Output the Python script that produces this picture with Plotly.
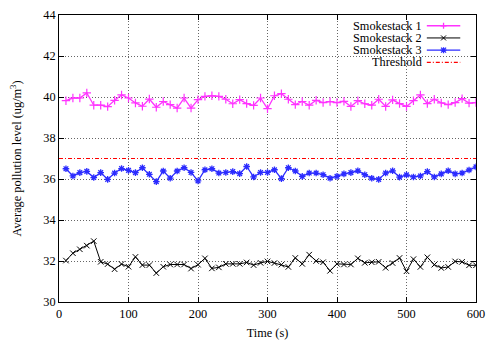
import plotly.graph_objects as go

time_s = [10, 20, 30, 40, 50, 60, 70, 80, 90, 100, 110, 120, 130, 140, 150, 160, 170, 180, 190, 200,
          210, 220, 230, 240, 250, 260, 270, 280, 290, 300, 310, 320, 330, 340, 350, 360, 370, 380, 390, 400,
          410, 420, 430, 440, 450, 460, 470, 480, 490, 500, 510, 520, 530, 540, 550, 560, 570, 580, 590, 600]

smokestack_1 = [39.82, 39.95, 39.95, 40.20, 39.60, 39.60, 39.53, 39.84, 40.10, 39.95,
                39.71, 39.55, 39.90, 39.50, 39.78, 39.63, 39.46, 39.95, 39.46, 39.87,
                40.03, 40.06, 40.03, 39.89, 39.67, 39.87, 39.68, 39.59, 39.95, 39.43,
                40.06, 40.16, 39.89, 39.63, 39.78, 39.60, 39.84, 39.73, 39.78, 39.73,
                39.79, 39.54, 39.82, 39.67, 39.60, 39.89, 39.54, 39.86, 39.68, 39.54,
                39.82, 40.10, 39.68, 39.89, 39.71, 39.63, 39.73, 39.92, 39.70, 39.73]

smokestack_2 = [32.02, 32.38, 32.57, 32.75, 32.97, 31.96, 31.85, 31.60, 31.85, 31.72,
                32.20, 31.80, 31.80, 31.41, 31.72, 31.83, 31.83, 31.83, 31.63, 31.82,
                32.13, 31.64, 31.69, 31.86, 31.86, 31.86, 31.93, 31.80, 31.91, 31.98,
                31.90, 31.82, 31.71, 32.15, 31.86, 32.31, 32.00, 31.94, 31.52, 31.86,
                31.83, 31.83, 32.13, 31.91, 31.94, 31.96, 31.67, 31.90, 32.15, 31.50,
                32.09, 31.71, 32.18, 31.82, 31.66, 31.71, 31.98, 31.96, 31.79, 31.79]

smokestack_3 = [36.50, 36.15, 36.31, 36.37, 36.07, 36.31, 35.98, 36.29, 36.51, 36.42,
                36.31, 36.55, 36.23, 35.87, 36.39, 36.04, 36.39, 36.55, 36.32, 35.91,
                36.45, 36.50, 36.29, 36.32, 36.36, 36.26, 36.61, 36.10, 36.32, 36.32,
                36.45, 36.02, 36.55, 36.39, 36.13, 36.29, 36.29, 36.21, 36.04, 36.13,
                36.25, 36.31, 36.40, 36.21, 36.04, 35.98, 36.29, 36.40, 36.09, 36.20,
                36.10, 36.15, 36.36, 36.10, 36.25, 36.40, 36.25, 36.29, 36.44, 36.59]

threshold_x = [0, 600]
threshold_y = [37, 37]

x_ticks = [0, 100, 200, 300, 400, 500, 600]
y_ticks = [30, 32, 34, 36, 38, 40, 42, 44]

names = ["Smokestack 1", "Smokestack 2", "Smokestack 3", "Threshold"]
colors = ["#ff33ff", "#000000", "#2b2bff", "#ff0000"]

FONT = "Liberation Serif, Times New Roman, serif"
FS = 12.3
THRESH_DASH = "4px,2px,1px,2px"

fig = go.Figure()
fig.add_trace(go.Scatter(x=time_s, y=smokestack_1, name=names[0], mode="lines+markers",
                         line=dict(color=colors[0], width=1.3),
                         marker=dict(symbol="cross-thin-open", size=6, line=dict(color=colors[0], width=1.2))))
fig.add_trace(go.Scatter(x=time_s, y=smokestack_2, name=names[1], mode="lines+markers",
                         line=dict(color=colors[1], width=1),
                         marker=dict(symbol="x-thin-open", size=5.5, line=dict(color=colors[1], width=1))))
fig.add_trace(go.Scatter(x=time_s, y=smokestack_3, name=names[2], mode="lines+markers",
                         line=dict(color=colors[2], width=1.3),
                         marker=dict(symbol="asterisk-open", size=5.5, line=dict(color=colors[2], width=1.3))))
fig.add_trace(go.Scatter(x=threshold_x, y=threshold_y, name=names[3], mode="lines",
                         line=dict(color=colors[3], width=1.2, dash=THRESH_DASH)))

# custom gnuplot-style key: right-aligned text, sample to the right
L, R, T, B = 59, 10, 8, 43
W, H = 493, 345
pw, ph = W - L - R, H - T - B

def px_x(px):
    return (px - L) / pw

def px_y(py):
    return (H - B - py) / ph

shapes = []
annotations = []
# blank the grid behind the key
shapes.append(dict(type="rect", xref="paper", yref="paper", x0=px_x(335), x1=1, y0=px_y(62), y1=1,
                   fillcolor="white", line=dict(width=0), layer="between"))
row_py = [19, 31.5, 44, 56.5]
marker_paths = ["M-3,0H3M0,-3V3", "M-2.5,-2.5L2.5,2.5M-2.5,2.5L2.5,-2.5",
                "M-3,0H3M0,-3V3M-2.5,-2.5L2.5,2.5M-2.5,2.5L2.5,-2.5", None]
widths = [1.3, 1, 1.3, 1.2]
for name, col, py, mp, w in zip(names, colors, row_py, marker_paths, widths):
    annotations.append(dict(x=px_x(429), y=px_y(py), xref="paper", yref="paper", text=name,
                            showarrow=False, xanchor="right", yanchor="middle", height=12,
                            borderpad=0,
                            font=dict(family=FONT, size=FS, color="black")))
    shapes.append(dict(type="line", xref="paper", yref="paper", x0=px_x(433), x1=px_x(467),
                       y0=px_y(py), y1=px_y(py), line=dict(color=col, width=w,
                       dash=THRESH_DASH if mp is None else "solid")))
    if mp:
        shapes.append(dict(type="path", xref="paper", yref="paper", xsizemode="pixel", ysizemode="pixel",
                           xanchor=px_x(450), yanchor=px_y(py), path=mp, line=dict(color=col, width=w)))

axis_common = dict(showline=True, linecolor="black", linewidth=1, mirror="ticks", ticks="inside",
                   ticklen=5, tickcolor="black", showgrid=True, gridcolor="#666666", griddash="1px,2px",
                   gridwidth=1, zeroline=False, tickfont=dict(family=FONT, size=FS, color="black"))

fig.update_layout(
    width=W, height=H,
    margin=dict(l=L, r=R, t=T, b=B),
    paper_bgcolor="white", plot_bgcolor="white",
    showlegend=False,
    font=dict(family=FONT, size=FS, color="black"),
    xaxis=dict(range=[0, 600], tickvals=x_ticks,
               title=dict(text="Time (s)", font=dict(family=FONT, size=FS), standoff=8), **axis_common),
    yaxis=dict(range=[30, 44], tickvals=y_ticks,
               title=dict(text="Average pollution level (ug/m<sup>3</sup>)", font=dict(family=FONT, size=FS), standoff=18),
               **axis_common),
    shapes=shapes,
    annotations=annotations,
)

fig.write_html("out.html", config={"displayModeBar": False},
               post_script="document.body.style.margin='0px';document.body.style.overflow='hidden';")
